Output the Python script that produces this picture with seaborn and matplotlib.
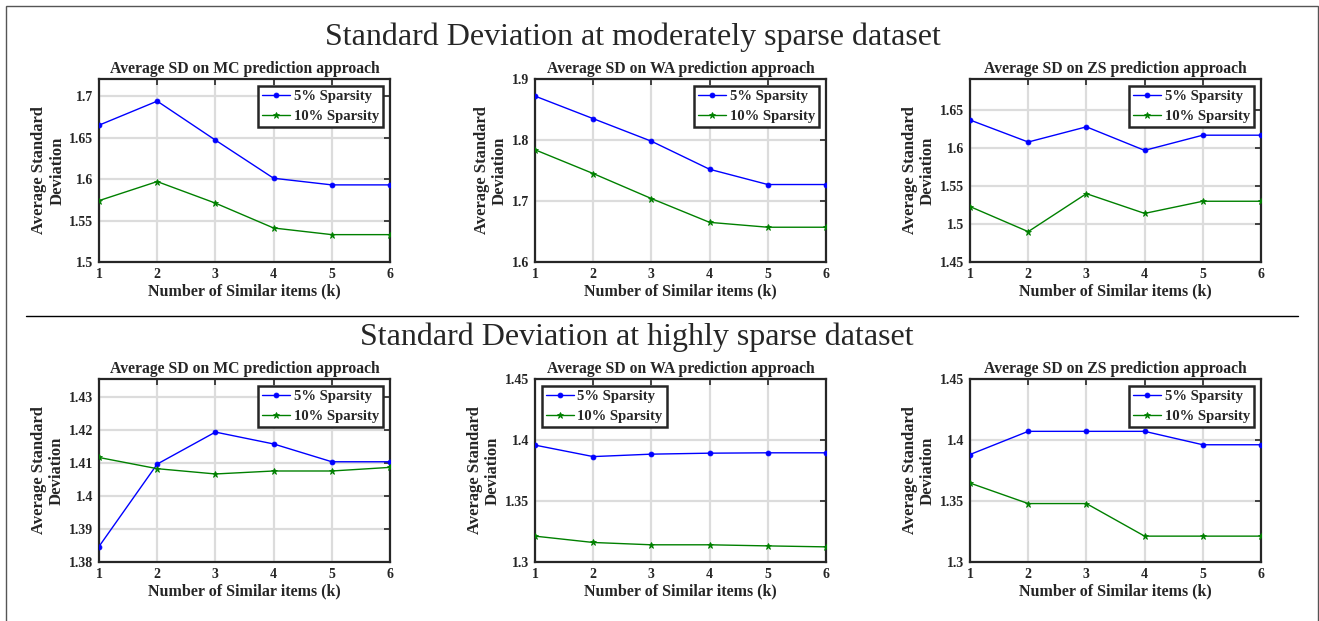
import numpy as np
import pandas as pd
import matplotlib
matplotlib.use("Agg")
import matplotlib.pyplot as plt
from matplotlib.ticker import FuncFormatter, FixedLocator
from matplotlib.patches import Rectangle
from matplotlib.lines import Line2D
import seaborn as sns

# ---------------- data ----------------
k_values = [1, 2, 3, 4, 5, 6]
series_names = ["5% Sparsity", "10% Sparsity"]

mod_mc_5 = [1.665, 1.694, 1.647, 1.601, 1.593, 1.593]
mod_mc_10 = [1.574, 1.597, 1.571, 1.541, 1.533, 1.533]
mod_wa_5 = [1.872, 1.835, 1.798, 1.752, 1.727, 1.727]
mod_wa_10 = [1.784, 1.745, 1.704, 1.665, 1.657, 1.657]
mod_zs_5 = [1.637, 1.608, 1.628, 1.597, 1.617, 1.617]
mod_zs_10 = [1.523, 1.490, 1.540, 1.514, 1.530, 1.530]

high_mc_5 = [1.3847, 1.4097, 1.4194, 1.4158, 1.4104, 1.4104]
high_mc_10 = [1.4117, 1.4083, 1.4067, 1.4076, 1.4076, 1.4087]
high_wa_5 = [1.3958, 1.3864, 1.3884, 1.3892, 1.3895, 1.3895]
high_wa_10 = [1.3212, 1.3160, 1.3141, 1.3141, 1.3132, 1.3124]
high_zs_5 = [1.3881, 1.4071, 1.4071, 1.4071, 1.3961, 1.3961]
high_zs_10 = [1.3647, 1.3479, 1.3479, 1.3212, 1.3212, 1.3212]

panel_titles = ["Average SD on MC prediction approach",
                "Average SD on WA prediction approach",
                "Average SD on ZS prediction approach"]
row_titles = ["Standard Deviation at moderately sparse dataset",
              "Standard Deviation at highly sparse dataset"]
x_label = "Number of Similar items (k)"
y_label = "Average Standard\nDeviation"

y_ticks = [
    [1.5, 1.55, 1.6, 1.65, 1.7],
    [1.6, 1.7, 1.8, 1.9],
    [1.45, 1.5, 1.55, 1.6, 1.65],
    [1.38, 1.39, 1.4, 1.41, 1.42, 1.43],
    [1.3, 1.35, 1.4, 1.45],
    [1.3, 1.35, 1.4, 1.45],
]
y_limits = [(1.5, 1.7207), (1.6, 1.9), (1.45, 1.691),
            (1.38, 1.4355), (1.3, 1.45), (1.3, 1.45)]
legend_locs = ["upper right", "upper right", "upper right",
               "upper right", "upper left", "upper right"]

panels = [(mod_mc_5, mod_mc_10), (mod_wa_5, mod_wa_10), (mod_zs_5, mod_zs_10),
          (high_mc_5, high_mc_10), (high_wa_5, high_wa_10), (high_zs_5, high_zs_10)]

# ---------------- style ----------------
sns.set_style("white")
plt.rcParams["font.family"] = ["Liberation Serif", "DejaVu Serif"]
plt.rcParams["font.weight"] = "bold"

W, H = 1319, 621
fig = plt.figure(figsize=(W / 100, H / 100), dpi=100)

lefts = [99, 535, 970]
tops = [79, 379]
aw, ah = 291, 183

colors = ["#0000ff", "#008000"]
markers = [".", "*"]
msizes = [7, 5]

fmt = FuncFormatter(lambda v, p: f"{round(v, 4):g}")

for i, (s5, s10) in enumerate(panels):
    r, c = divmod(i, 3)
    l = lefts[c]
    t = tops[r]
    ax = fig.add_axes([l / W, 1 - (t + ah) / H, aw / W, ah / H])
    df = pd.DataFrame({
        "k": k_values * 2,
        "sd": list(s5) + list(s10),
        "series": [series_names[0]] * 6 + [series_names[1]] * 6,
    })
    for j, name in enumerate(series_names):
        sub = df[df["series"] == name]
        sns.lineplot(data=sub, x="k", y="sd", ax=ax, color=colors[j],
                     marker=markers[j], markersize=msizes[j],
                     markeredgecolor=colors[j], markerfacecolor=colors[j],
                     markeredgewidth=0.6, linewidth=1.0, label=name, zorder=3)
    ax.set_xlim(1, 6)
    ax.set_ylim(*y_limits[i])
    ax.xaxis.set_major_locator(FixedLocator(k_values))
    ax.yaxis.set_major_locator(FixedLocator(y_ticks[i]))
    ax.yaxis.set_major_formatter(fmt)
    ax.grid(True, color="#dcdcdc", linewidth=1.6, zorder=0)
    ax.set_axisbelow(True)
    for sp in ax.spines.values():
        sp.set_visible(True)
        sp.set_color("#262626")
        sp.set_linewidth(1.6)
    ax.tick_params(direction="in", top=True, right=True, length=4, width=1.2,
                   labelsize=10, colors="#262626", pad=4)
    for lab in ax.get_xticklabels() + ax.get_yticklabels():
        lab.set_fontweight("bold")
    ax.set_title(panel_titles[c], fontsize=11.3, fontweight="bold", pad=4)
    ax.set_xlabel(x_label, fontsize=11.5, fontweight="bold", labelpad=2, color="#262626")
    ax.set_ylabel(y_label, fontsize=12, fontweight="bold", labelpad=3,
                  color="#262626", linespacing=1.15)
    leg = ax.legend(loc=legend_locs[i], fontsize=10.5, frameon=True, fancybox=False,
                    borderaxespad=0.45, handlelength=1.9, handletextpad=0.25,
                    borderpad=0.3, labelspacing=0.45)
    leg.get_frame().set_edgecolor("#262626")
    leg.get_frame().set_linewidth(1.8)
    leg.get_frame().set_alpha(1)
    for txt in leg.get_texts():
        txt.set_fontweight("bold")

# row titles
fig.text(633 / W, 1 - 45 / H, row_titles[0], ha="center", va="baseline",
         fontsize=23, fontweight="normal")
fig.text(637 / W, 1 - 345 / H, row_titles[1], ha="center", va="baseline",
         fontsize=23, fontweight="normal")

# separator line
fig.add_artist(Line2D([26 / W, 1298 / W], [1 - 316 / H, 1 - 316 / H],
                      transform=fig.transFigure, color="black", linewidth=1.0))
# outer frame
fig.add_artist(Rectangle((6 / W, -0.05), (1318 - 6) / W, 1 - 6 / H + 0.05,
                         transform=fig.transFigure, fill=False,
                         edgecolor="#555555", linewidth=1.0))

fig.savefig("out.png", dpi=100)
